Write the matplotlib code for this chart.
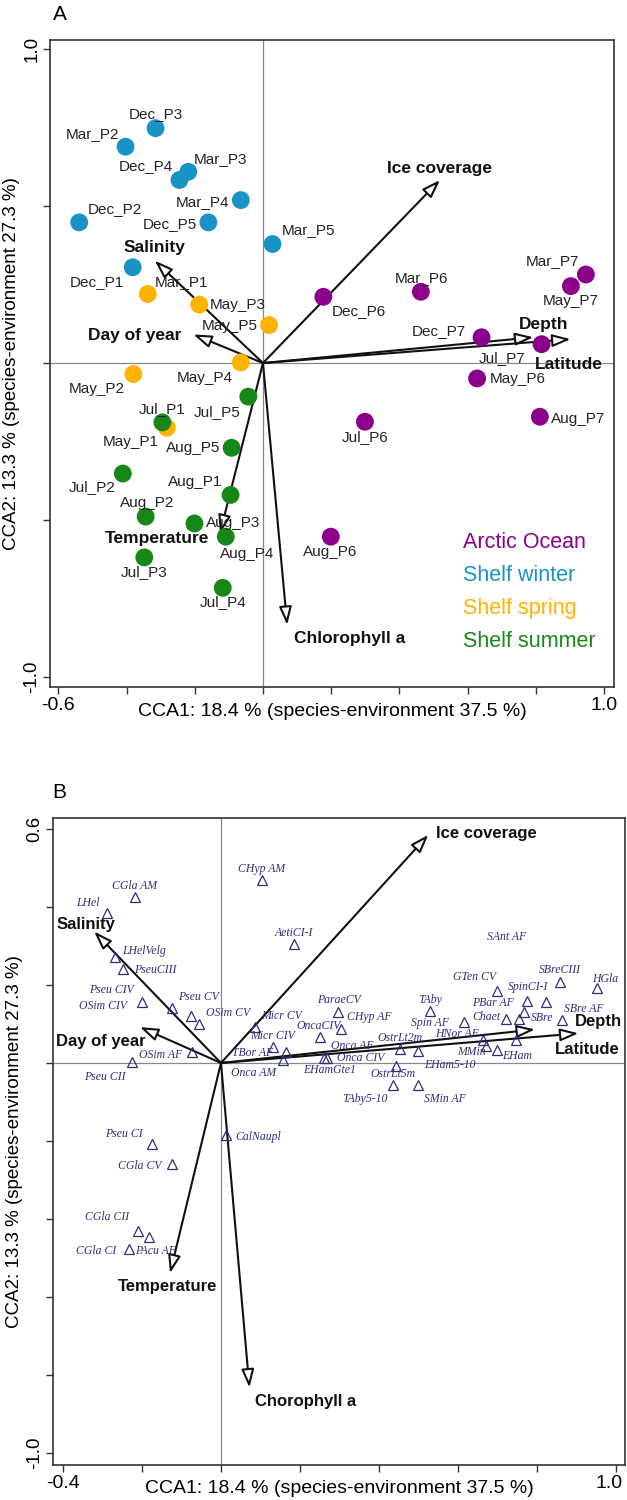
import matplotlib
matplotlib.use('Agg')
import matplotlib.pyplot as plt
from matplotlib.transforms import ScaledTranslation

# ---------------- Panel A: stations ----------------
station_names = ['Dec_P3', 'Mar_P2', 'Dec_P4', 'Mar_P3', 'Mar_P4', 'Dec_P2', 'Dec_P5', 'Mar_P5', 'Dec_P1',
                 'Mar_P1', 'May_P3', 'May_P5', 'May_P4', 'May_P2', 'May_P1',
                 'Jul_P5', 'Jul_P1', 'Aug_P5', 'Jul_P2', 'Aug_P1', 'Aug_P2', 'Aug_P3', 'Aug_P4', 'Jul_P3', 'Jul_P4',
                 'Dec_P6', 'Mar_P6', 'Mar_P7', 'May_P7', 'Dec_P7', 'Jul_P7', 'May_P6', 'Aug_P7', 'Jul_P6', 'Aug_P6']
station_group = ['winter'] * 9 + ['spring'] * 6 + ['summer'] * 10 + ['arctic'] * 10
station_x = [-0.315, -0.403, -0.245, -0.219, -0.065, -0.539, -0.160, 0.028, -0.382,
             -0.338, -0.187, 0.018, -0.065, -0.380, -0.282,
             -0.043, -0.295, -0.092, -0.411, -0.095, -0.344, -0.201, -0.109, -0.348, -0.118,
             0.177, 0.463, 0.947, 0.903, 0.641, 0.817, 0.628, 0.812, 0.299, 0.199]
station_y = [0.748, 0.689, 0.583, 0.609, 0.519, 0.448, 0.448, 0.379, 0.305,
             0.220, 0.186, 0.121, 0.002, -0.035, -0.206,
             -0.107, -0.189, -0.270, -0.352, -0.420, -0.489, -0.511, -0.553, -0.619, -0.716,
             0.211, 0.227, 0.282, 0.245, 0.082, 0.060, -0.049, -0.171, -0.187, -0.553]
station_lab_x = [-0.315, -0.499, -0.344, -0.124, -0.177, -0.434, -0.273, 0.135, -0.486,
                 -0.238, -0.075, -0.097, -0.170, -0.488, -0.387,
                 -0.134, -0.297, -0.204, -0.502, -0.199, -0.341, -0.087, -0.046, -0.348, -0.118,
                 0.280, 0.465, 0.848, 0.902, 0.517, 0.702, 0.747, 0.925, 0.299, 0.196]
station_lab_y = [0.792, 0.729, 0.628, 0.649, 0.514, 0.490, 0.443, 0.424, 0.257,
                 0.259, 0.185, 0.118, -0.049, -0.084, -0.251,
                 -0.155, -0.148, -0.272, -0.396, -0.378, -0.445, -0.511, -0.608, -0.665, -0.762,
                 0.167, 0.272, 0.326, 0.197, 0.102, 0.015, -0.052, -0.179, -0.235, -0.601]

legend_keys = ['arctic', 'winter', 'spring', 'summer']
legend_names = ['Arctic Ocean', 'Shelf winter', 'Shelf spring', 'Shelf summer']

env_A = ['Ice coverage', 'Salinity', 'Day of year', 'Depth', 'Latitude', 'Temperature', 'Chlorophyll a']
env_A_x = [0.519, -0.317, -0.204, 0.793, 0.902, -0.126, 0.071]
env_A_y = [0.583, 0.326, 0.091, 0.082, 0.076, -0.542, -0.834]
env_A_lx = [0.519, -0.317, -0.375, 0.824, 0.897, -0.310, 0.254]
env_A_ly = [0.621, 0.369, 0.089, 0.124, -0.006, -0.559, -0.876]

# ---------------- Panel B: species ----------------
species_tri_x = [0.103, -0.218, -0.289, 0.185, -0.268, -0.247, -0.201, -0.123, -0.076, -0.056,
                 0.086, 0.131, 0.164, 0.156, 0.251, 0.295, 0.304, 0.261, 0.268, -0.074, -0.224,
                 0.453, 0.499, 0.442, 0.436, 0.500, 0.529, 0.614, 0.700, 0.774, 0.823, 0.858,
                 0.953, 0.722, 0.755, 0.767, 0.863, 0.664, 0.671, 0.698, 0.747,
                 -0.174, -0.123, 0.012, -0.211, -0.182, -0.232]
species_tri_y = [0.469, 0.426, 0.384, 0.305, 0.271, 0.241, 0.157, 0.142, 0.121, 0.100,
                 0.093, 0.041, 0.029, 0.008, 0.067, 0.131, 0.087, 0.012, 0.012, 0.027, 0.002,
                 0.035, 0.031, -0.008, -0.056, -0.056, 0.134, 0.105, 0.185, 0.160, 0.157, 0.208,
                 0.192, 0.113, 0.113, 0.130, 0.110, 0.059, 0.043, 0.033, 0.059,
                 -0.208, -0.259, -0.185, -0.430, -0.445, -0.477]

species_names = ['CHyp AM', 'CGla AM', 'LHel', 'AetiCI-I', 'LHelVelg', 'PseuCIII', 'Pseu CIV', 'OSim CIV',
                 'Pseu CV', 'OSim CV', 'Micr CV', 'Micr CIV', 'OncaCIV', 'ParaeCV', 'CHyp AF', 'OSim AF',
                 'Pseu CII', 'TBor AF', 'Onca AM', 'EHamGte1', 'Onca AF', 'Onca CIV', 'OstrLt2m', 'EHam5-10',
                 'OstrLt5m', 'TAby5-10', 'SMin AF', 'HNor AF', 'MMin', 'EHam', 'TAby', 'Spin AF', 'GTen CV',
                 'SpinCI-I', 'PBar AF', 'Chaet', 'SBreCIII', 'HGla', 'SBre AF', 'SBre', 'SAnt AF',
                 'Pseu CI', 'CGla CV', 'CalNaupl', 'CGla CII', 'PAcu AF', 'CGla CI']
species_lab_x = [0.103, -0.218, -0.336, 0.185, -0.196, -0.167, -0.277, -0.299,
                 -0.056, 0.019, 0.154, 0.130, 0.246, 0.299, 0.375, -0.154,
                 -0.294, 0.079, 0.082, 0.276, 0.332, 0.353, 0.454, 0.580,
                 0.436, 0.365, 0.567, 0.597, 0.635, 0.749, 0.529, 0.529, 0.643,
                 0.778, 0.689, 0.673, 0.858, 0.972, 0.919, 0.813, 0.723,
                 -0.247, -0.205, 0.094, -0.289, -0.167, -0.315]
species_lab_y = [0.497, 0.455, 0.411, 0.334, 0.287, 0.238, 0.187, 0.146,
                 0.170, 0.127, 0.121, 0.069, 0.095, 0.162, 0.117, 0.021,
                 -0.037, 0.025, -0.026, -0.018, 0.044, 0.014, 0.063, -0.005,
                 -0.028, -0.093, -0.093, 0.074, 0.029, 0.018, 0.162, 0.103, 0.220,
                 0.194, 0.155, 0.117, 0.238, 0.215, 0.139, 0.115, 0.322,
                 -0.181, -0.263, -0.189, -0.394, -0.481, -0.481]

env_B = ['Ice coverage', 'Salinity', 'Day of year', 'Depth', 'Latitude', 'Temperature', 'Chorophyll a']
env_B_x = [0.525, -0.321, -0.205, 0.795, 0.905, -0.129, 0.072]
env_B_y = [0.585, 0.337, 0.092, 0.086, 0.076, -0.539, -0.832]
env_B_lx = [0.673, -0.342, -0.303, 0.955, 0.928, -0.136, 0.213]
env_B_ly = [0.589, 0.354, 0.056, 0.106, 0.035, -0.574, -0.868]

# ---------------- style ----------------
colors = {'arctic': '#8B008B', 'winter': '#1992C4', 'spring': '#FFB300', 'summer': '#17871A'}
navy = '#2E2E7E'
sans = 'Liberation Sans'
serif = 'Liberation Serif'
xlab = 'CCA1: 18.4 % (species-environment 37.5 %)'
ylab = 'CCA2: 13.3 % (species-environment 27.3 %)'

fig = plt.figure(figsize=(6.27, 15), dpi=100)
fig.patch.set_facecolor('white')


def draw_arrows(ax, xs, ys, names, lxs, lys, fs):
    for x, y, n, lx, ly in zip(xs, ys, names, lxs, lys):
        ax.annotate('', xy=(x, y), xytext=(0, 0),
                    arrowprops=dict(arrowstyle='-|>,head_length=1.1,head_width=0.38',
                                    fc='white', ec='#111111', lw=1.5,
                                    shrinkA=0, shrinkB=0), zorder=4)
        ax.text(lx, ly, n, fontsize=fs, fontweight='bold', family=sans,
                ha='center', va='center', color='#111111', zorder=5)


def frame(ax, xlim, ylim, xticks, xtl, yticks, ytl, xlab_y):
    ax.set_xlim(*xlim)
    ax.set_ylim(*ylim)
    ax.axhline(0, color='#888888', lw=0.9, zorder=0.5)
    ax.axvline(0, color='#888888', lw=0.9, zorder=0.5)
    ax.set_xticks(xticks)
    ax.set_xticklabels(xtl, fontsize=14, family=sans)
    ax.set_yticks(yticks)
    ax.set_yticklabels(ytl, fontsize=13.5, family=sans, rotation=90, va='center')
    ax.tick_params(direction='out', length=5, width=1, color='#333333', pad=2)
    for s in ax.spines.values():
        s.set_color('#333333')
        s.set_linewidth(1.2)
    # x label sits on the same line as the tick labels (R style)
    ax.set_xlabel(xlab, fontsize=14, family=sans, va='center')
    ax.xaxis.set_label_coords(0.5, xlab_y)
    ax.set_ylabel(ylab, fontsize=13.5, family=sans, labelpad=2)


# ---------------- Panel A ----------------
axA = fig.add_axes([0.0797, 0.542, 0.8995, 0.4313])
frame(axA, (-0.6246, 1.0293), (-1.0318, 1.0287),
      [-0.6, -0.4, -0.2, 0.0, 0.2, 0.4, 0.6, 0.8, 1.0], ['-0.6', '', '', '', '', '', '', '', '1.0'],
      [-1.0, -0.5, 0.0, 0.5, 1.0], ['-1.0', '', '', '', '1.0'], -0.0386)

draw_arrows(axA, env_A_x, env_A_y, env_A, env_A_lx, env_A_ly, 12.5)

for grp in ['winter', 'spring', 'summer', 'arctic']:
    xs = [x for x, g in zip(station_x, station_group) if g == grp]
    ys = [y for y, g in zip(station_y, station_group) if g == grp]
    axA.scatter(xs, ys, s=165, color=colors[grp], edgecolors='none', zorder=6)

for n, lx, ly in zip(station_names, station_lab_x, station_lab_y):
    axA.text(lx, ly, n, fontsize=11, family=sans, ha='center', va='center', color='#222222', zorder=7)

for i, (k, n) in enumerate(zip(legend_keys, legend_names)):
    axA.text(0.732, 0.2226 - i * 0.051, n, transform=axA.transAxes, fontsize=15.5,
             family=sans, color=colors[k], ha='left', va='center')

fig.text(0.084, 0.990, 'A', fontsize=15, family=sans, ha='left', va='center')

# ---------------- Panel B ----------------
axB = fig.add_axes([0.0845, 0.0233, 0.9123, 0.4314])
frame(axB, (-0.4253, 1.0228), (-1.0308, 0.6282),
      [-0.4, -0.2, 0.0, 0.2, 0.4, 0.6, 0.8, 1.0], ['-0.4', '', '', '', '', '', '', '1.0'],
      [-1.0, -0.8, -0.6, -0.4, -0.2, 0.0, 0.2, 0.4, 0.6], ['-1.0', '', '', '', '', '', '', '', '0.6'],
      -0.0356)

# last tick label sits a little left so it stays inside the picture
last = axB.get_xticklabels()[-1]
last.set_transform(last.get_transform() + ScaledTranslation(-5 / 72, 0, fig.dpi_scale_trans))

draw_arrows(axB, env_B_x, env_B_y, env_B, env_B_lx, env_B_ly, 12)

axB.plot(species_tri_x, species_tri_y, linestyle='none', marker='^', markersize=6.5,
         mfc='none', mec=navy, mew=0.9, zorder=6)
for n, lx, ly in zip(species_names, species_lab_x, species_lab_y):
    axB.text(lx, ly, n, fontsize=8.5, family=serif, style='italic', ha='center', va='center',
             color=navy, zorder=7)

fig.text(0.083, 0.472, 'B', fontsize=15, family=sans, ha='left', va='center')

fig.savefig('out.png', dpi=100, facecolor='white')
